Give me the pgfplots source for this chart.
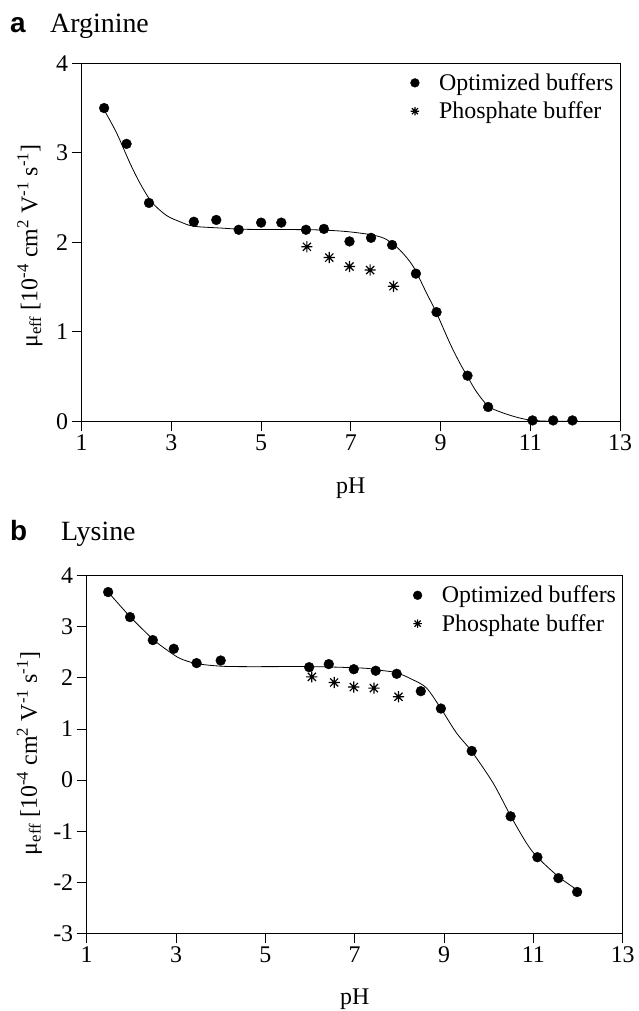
\documentclass[border=0pt]{standalone}
\usepackage{pgfplots}
\pgfplotsset{compat=1.18}
\usepackage{fontspec}
\setmainfont{Liberation Serif}
\newfontfamily\sansf{Liberation Sans}
\newcommand{\tfont}{\fontsize{24}{28}\selectfont}
\pgfdeclareplotmark{star8}{%
  \pgfpathmoveto{\pgfqpoint{0pt}{\pgfplotmarksize}}\pgfpathlineto{\pgfqpoint{0pt}{-\pgfplotmarksize}}%
  \pgfpathmoveto{\pgfqpoint{\pgfplotmarksize}{0pt}}\pgfpathlineto{\pgfqpoint{-\pgfplotmarksize}{0pt}}%
  \pgfpathmoveto{\pgfqpoint{0.72\pgfplotmarksize}{0.72\pgfplotmarksize}}\pgfpathlineto{\pgfqpoint{-0.72\pgfplotmarksize}{-0.72\pgfplotmarksize}}%
  \pgfpathmoveto{\pgfqpoint{-0.72\pgfplotmarksize}{0.72\pgfplotmarksize}}\pgfpathlineto{\pgfqpoint{0.72\pgfplotmarksize}{-0.72\pgfplotmarksize}}%
  \pgfusepathqstroke}
\pgfplotsset{
  myax/.style={
    scale only axis, clip=false,
    xmin=1, xmax=13, xtick={1,3,...,13},
    tick pos=left, tick align=outside, major tick length=10bp,
    axis line style={line width=0.9bp},
    every tick/.style={line width=0.9bp, black},
    tick label style={font=\tfont},
    /pgf/number format/assume math mode=true,
    xlabel style={font=\tfont, at={(rel axis cs:0.5,0)}, anchor=base},
    legend cell align=left,
    legend style={at={(rel axis cs:1,1)}, anchor=north east, draw=none, fill=none,
      inner sep=0pt, font=\tfont, row sep=6bp, xshift=-4.5bp, yshift=-8.2bp,
      nodes={inner sep=2bp}},
  },
  dots/.style={only marks, mark=*, mark size=4.9bp, black,
    legend image code/.code={\path (-6bp,0bp) (22bp,0bp); \draw[##1, mark size=4.4bp] plot coordinates {(0bp,0bp)};}},
  stars/.style={only marks, mark=star8, mark size=5.6bp, black, mark options={line width=1.2bp},
    legend image code/.code={\path (-6bp,0bp) (22bp,0bp); \draw[##1, mark size=4.2bp] plot coordinates {(0bp,0bp)};}},
  fit/.style={black, line width=0.8bp, smooth, no marks, forget plot},
}
\begin{document}
\begin{tikzpicture}[x=1bp,y=1bp]
\path[use as bounding box] (0,0) rectangle (639,-1011);
% ---------- panel a ----------
\node[anchor=base west, inner sep=0pt, font=\sansf\bfseries\fontsize{28}{32}\selectfont] at (10,-32) {a};
\node[anchor=base west, inner sep=0pt, font=\fontsize{28}{32}\selectfont] at (50,-32) {Arginine};
\begin{axis}[myax, at={(81.7bp,-421.3bp)}, anchor=south west,
  width=538.3bp, height=358bp, ymin=0, ymax=4, ytick={0,1,2,3,4},
  xlabel={pH}, xlabel style={yshift=-72.3bp}]
\addplot[fit] coordinates {(1.5,3.48)(1.78,3.22)(2.08,2.88)(2.30,2.66)(2.56,2.45)(2.89,2.30)(3.19,2.23)(3.49,2.18)(4.08,2.16)(4.67,2.145)(6.16,2.14)(6.91,2.12)(7.50,2.08)(7.80,2.03)(8.10,1.91)(8.39,1.73)(8.69,1.43)(8.91,1.21)(9.21,0.87)(9.43,0.65)(9.60,0.50)(9.80,0.33)(10.06,0.17)(10.32,0.107)(10.70,0.045)(11.05,0.01)(11.5,0.0)(12.0,0.0)};
\addplot[dots] coordinates {(1.5,3.50)(2.0,3.10)(2.5,2.44)(3.5,2.23)(4.0,2.25)(4.5,2.14)(5.0,2.22)(5.45,2.22)(6.0,2.14)(6.4,2.15)(6.97,2.01)(7.45,2.05)(7.92,1.97)(8.45,1.65)(8.91,1.22)(9.60,0.51)(10.06,0.16)(11.05,0.01)(11.51,0.01)(11.94,0.01)};
\addlegendentry{Optimized buffers}
\addplot[stars] coordinates {(6.02,1.95)(6.52,1.83)(6.97,1.73)(7.43,1.69)(7.95,1.51)};
\addlegendentry{Phosphate buffer}
\end{axis}
\node[rotate=90, font=\tfont] at (30,-246) {μ\textsubscript{eff} [10\textsuperscript{-4} cm\textsuperscript{2} V\textsuperscript{-1} s\textsuperscript{-1}]};
% ---------- panel b ----------
\node[anchor=base west, inner sep=0pt, font=\sansf\bfseries\fontsize{28}{32}\selectfont] at (10,-540.7) {b};
\node[anchor=base west, inner sep=0pt, font=\fontsize{28}{32}\selectfont] at (61,-540.7) {Lysine};
\begin{axis}[myax, at={(86.7bp,-933.3bp)}, anchor=south west,
  width=536bp, height=357.6bp, ymin=-3, ymax=4, ytick={-3,-2,-1,0,1,2,3,4},
  xlabel={pH}, xlabel style={yshift=-70.7bp}]
\addplot[fit] coordinates {(1.5,3.66)(1.97,3.20)(2.48,2.76)(2.79,2.55)(3.09,2.38)(3.46,2.28)(3.99,2.23)(4.59,2.22)(6.09,2.22)(7.21,2.19)(7.56,2.15)(7.94,2.10)(8.31,1.96)(8.61,1.80)(8.93,1.40)(9.28,0.92)(9.62,0.56)(10.10,-0.06)(10.49,-0.70)(10.85,-1.24)(11.09,-1.51)(11.56,-1.89)(11.98,-2.15)};
\addplot[dots] coordinates {(1.48,3.68)(1.97,3.19)(2.48,2.74)(2.95,2.57)(3.46,2.29)(4.0,2.34)(5.98,2.21)(6.42,2.27)(6.98,2.17)(7.47,2.14)(7.94,2.08)(8.48,1.74)(8.93,1.40)(9.62,0.57)(10.49,-0.71)(11.09,-1.51)(11.56,-1.92)(11.98,-2.19)};
\addlegendentry{Optimized buffers}
\addplot[stars] coordinates {(6.04,2.02)(6.54,1.91)(6.98,1.82)(7.43,1.80)(7.98,1.63)};
\addlegendentry{Phosphate buffer}
\end{axis}
\node[rotate=90, font=\tfont] at (29.5,-753.5) {μ\textsubscript{eff} [10\textsuperscript{-4} cm\textsuperscript{2} V\textsuperscript{-1} s\textsuperscript{-1}]};
\end{tikzpicture}
\end{document}
